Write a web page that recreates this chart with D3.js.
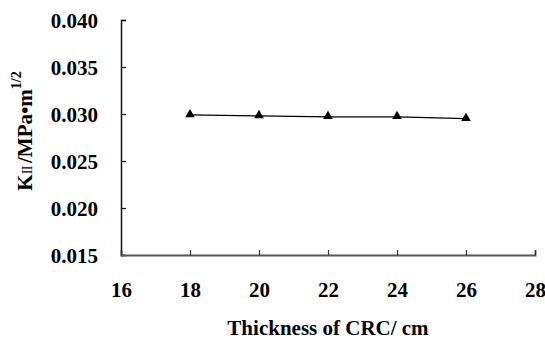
<!DOCTYPE html>
<html>
<head>
<meta charset="utf-8">
<script src="https://cdn.jsdelivr.net/npm/d3@7"></script>
<style>
  body { margin: 0; background: #fff; }
  text { font-family: "Liberation Serif", "Times New Roman", serif; font-weight: bold; fill: #000; }
</style>
</head>
<body>
<svg id="chart" width="545" height="340"></svg>
<script>
var thickness = [18, 20, 22, 24, 26];
var kValues = [0.0299, 0.0298, 0.0297, 0.0297, 0.0295];
var xTicks = [16, 18, 20, 22, 24, 26, 28];
var yTicks = [0.015, 0.020, 0.025, 0.030, 0.035, 0.040];

var svg = d3.select("#chart");

var x = d3.scaleLinear().domain([16, 28]).range([121, 535]);
var y = d3.scaleLinear().domain([0.015, 0.040]).range([255, 20]);

// y axis, ticks pointing inward
var yAxis = svg.append("g")
    .attr("transform", "translate(121,0)")
    .call(d3.axisRight(y).tickValues(yTicks).tickSize(5).tickFormat(d3.format(".3f")));
yAxis.select(".domain").attr("stroke", "#111").attr("stroke-width", 1.5);
yAxis.selectAll(".tick line").attr("stroke", "#111").attr("stroke-width", 1.2);
yAxis.selectAll(".tick text")
    .attr("x", -23)
    .attr("dy", "0.34em")
    .attr("text-anchor", "end")
    .attr("font-size", 21);

// x axis, ticks pointing up
var xAxis = svg.append("g")
    .attr("transform", "translate(0,255)")
    .call(d3.axisTop(x).tickValues(xTicks).tickSize(5).tickFormat(d3.format("d")));
xAxis.select(".domain").attr("stroke", "#555").attr("stroke-width", 1.8);
xAxis.selectAll(".tick line").attr("stroke", "#333").attr("stroke-width", 1.2);
xAxis.selectAll(".tick text")
    .attr("y", 42)
    .attr("dy", 0)
    .attr("text-anchor", "middle")
    .attr("font-size", 21);
svg.selectAll(".domain").attr("fill", "none");

// data line
var line = d3.line()
    .x(function(d, i){ return x(thickness[i]); })
    .y(function(d){ return y(d); });
svg.append("path")
    .datum(kValues)
    .attr("d", line)
    .attr("fill", "none")
    .attr("stroke", "#000")
    .attr("stroke-width", 1.3);

svg.selectAll(".marker")
    .data(kValues)
    .enter()
    .append("path")
    .classed("marker", true)
    .attr("d", d3.symbol().type(d3.symbolTriangle).size(40))
    .attr("transform", function(d, i){ return "translate(" + x(thickness[i]) + "," + (y(d) - 0.5) + ")"; })
    .attr("fill", "#000");

// axis titles
svg.append("text")
    .attr("x", 328)
    .attr("y", 335)
    .attr("text-anchor", "middle")
    .attr("font-size", 21)
    .text("Thickness of CRC/ cm");

var yTitle = svg.append("text")
    .attr("transform", "translate(32,131) rotate(-90)")
    .attr("text-anchor", "middle")
    .attr("font-size", 21);
yTitle.append("tspan").text("K");
yTitle.append("tspan").attr("font-size", 14).attr("font-weight", "normal").attr("letter-spacing", -0.5).text("II ");
yTitle.append("tspan").text("/MPa\u2022m");
yTitle.append("tspan").attr("font-size", 14).attr("dy", -11).text("1/2");
</script>
</body>
</html>
